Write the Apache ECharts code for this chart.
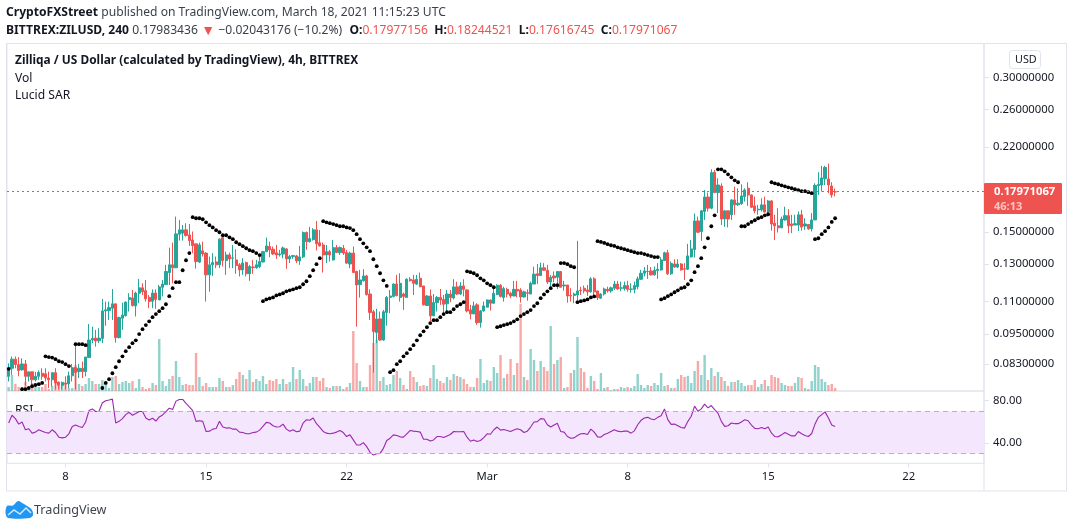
<!DOCTYPE html>
<html><head><meta charset="utf-8">
<style>html,body{margin:0;padding:0;background:#fff}#c{width:1073px;height:528px}</style>
<script src="https://cdn.jsdelivr.net/npm/echarts@6/dist/echarts.min.js"></script>
</head><body><div id="c"></div>
<script>
const tickIndex=[17,59,101,143,185,227,269];
const tickLabels=['8','15','22','Mar','8','15','22'];
const priceTicks=[0.083,0.095,0.11,0.13,0.15,0.22,0.26,0.30];
const rsiTicks=[40,80];
const lastPrice=0.17971067;
const opens=[.0786,.0815,.0849,.0829,.0809,.0831,.0786,.0802,.0774,.0786,
.0797,.0795,.0780,.0774,.0799,.0766,.0755,.0763,.0760,.0788,
.0818,.0803,.0815,.0803,.0855,.0925,.0933,.0922,.0932,.1054,
.1056,.1067,.1088,.0935,.1020,.1032,.1110,.1117,.1078,.1141,
.1169,.1154,.1120,.1101,.1142,.1107,.1172,.1186,.1252,.1296,
.1279,.1487,.1494,.1516,.1482,.1449,.1424,.1312,.1380,.1366,
.1239,.1296,.1313,.1296,.1464,.1321,.1355,.1335,.1325,.1296,
.1267,.1309,.1245,.1284,.1279,.1286,.1313,.1375,.1407,.1390,
.1368,.1355,.1360,.1392,.1331,.1345,.1349,.1319,.1343,.1498,
.1438,.1451,.1516,.1431,.1417,.1355,.1375,.1325,.1400,.1369,
.1396,.1369,.1301,.1366,.1258,.1186,.1207,.1233,.1137,.1050,
.0957,.1017,.0925,.1047,.1120,.1125,.1189,.1120,.1137,.1120,
.1215,.1211,.1189,.1220,.1179,.1080,.1127,.1031,.1094,.1120,
.1110,.1088,.1137,.1117,.1174,.1137,.1179,.1158,.1059,.1040,
.1083,.1000,.1054,.1072,.1107,.1091,.1134,.1183,.1120,.1161,
.1141,.1127,.1161,.1158,.1122,.1144,.1137,.1189,.1245,.1235,
.1279,.1265,.1200,.1233,.1226,.1258,.1179,.1184,.1130,.1130,
.1132,.1156,.1167,.1158,.1148,.1217,.1153,.1116,.1137,.1161,
.1153,.1167,.1189,.1167,.1165,.1181,.1161,.1161,.1175,.1215,
.1248,.1258,.1261,.1239,.1263,.1267,.1321,.1368,.1245,.1301,
.1283,.1301,.1273,.1271,.1343,.1388,.1578,.1505,.1646,.1757,
.1671,.1963,.1792,.1846,.1592,.1651,.1622,.1734,.1696,.1704,
.1760,.1827,.1773,.1688,.1658,.1658,.1696,.1643,.1726,.1562,
.1544,.1530,.1585,.1616,.1557,.1549,.1549,.1622,.1542,.1553,
.1523,.1585,.1849,.1854,.1907,.1904,.1846,.17977];
const closes=[.0815,.0849,.0829,.0807,.0831,.0786,.0802,.0774,.0786,.0800,
.0786,.0780,.0774,.0799,.0763,.0755,.0765,.0759,.0788,.0817,
.0800,.0815,.0803,.0857,.0925,.0932,.0921,.0933,.1054,.1059,
.1070,.1088,.0935,.1023,.1035,.1097,.1119,.1080,.1142,.1169,
.1149,.1113,.1099,.1142,.1110,.1174,.1189,.1258,.1296,.1279,
.1489,.1516,.1516,.1478,.1445,.1413,.1315,.1417,.1361,.1239,
.1296,.1309,.1296,.1454,.1321,.1355,.1331,.1337,.1292,.1267,
.1307,.1245,.1286,.1280,.1296,.1315,.1375,.1411,.1386,.1361,
.1355,.1361,.1398,.1331,.1345,.1351,.1319,.1343,.1498,.1437,
.1458,.1516,.1424,.1411,.1355,.1375,.1355,.1400,.1369,.1400,
.1366,.1306,.1366,.1252,.1184,.1211,.1233,.1134,.1047,.0961,
.1017,.0925,.1050,.1120,.1127,.1189,.1129,.1193,.1125,.1215,
.1207,.1193,.1215,.1175,.1083,.1127,.1031,.1094,.1120,.1107,
.1086,.1137,.1119,.1174,.1137,.1179,.1161,.1054,.1040,.1078,
.1000,.1054,.1078,.1107,.1091,.1141,.1183,.1125,.1165,.1137,
.1127,.1161,.1153,.1122,.1148,.1141,.1193,.1243,.1235,.1279,
.1265,.1200,.1226,.1222,.1258,.1172,.1184,.1127,.1127,.1137,
.1153,.1153,.1153,.1148,.1217,.1148,.1119,.1137,.1163,.1153,
.1169,.1189,.1163,.1169,.1181,.1161,.1163,.1181,.1217,.1248,
.1261,.1259,.1239,.1265,.1271,.1325,.1368,.1245,.1304,.1283,
.1301,.1267,.1271,.1349,.1392,.1578,.1500,.1651,.1757,.1671,
.1960,.1792,.1854,.1592,.1651,.1592,.1734,.1696,.1709,.1765,
.1813,.1773,.1678,.1651,.1663,.1696,.1643,.1726,.1557,.1544,
.1530,.1592,.1616,.1544,.1544,.1559,.1622,.1535,.1557,.1523,
.1585,.1851,.1860,.1913,.2007,.1854,.1773,.17971];
const highs=[.0833,.0859,.0859,.0857,.0852,.0846,.0802,.0802,.0802,.0807,
.0815,.0815,.0803,.0799,.0815,.0768,.0768,.0786,.0803,.0831,
.0909,.0831,.0840,.0857,.0994,.0982,.0968,.0975,.1112,.1099,
.1099,.1163,.1088,.1028,.1094,.1099,.1141,.1158,.1149,.1217,
.1193,.1211,.1132,.1161,.1161,.1184,.1211,.1296,.1400,.1432,
.1609,.1585,.1549,.1562,.1557,.1505,.1424,.1432,.1438,.1372,
.1345,.1366,.1345,.1460,.1464,.1375,.1369,.1417,.1390,.1306,
.1335,.1315,.1296,.1325,.1325,.1355,.1380,.1464,.1438,.1407,
.1417,.1386,.1407,.1396,.1355,.1355,.1355,.1411,.1505,.1505,
.1537,.1528,.1578,.1516,.1432,.1417,.1386,.1449,.1417,.1407,
.1417,.1386,.1375,.1407,.1263,.1267,.1271,.1239,.1161,.1059,
.1064,.1051,.1059,.1127,.1158,.1193,.1239,.1248,.1144,.1220,
.1226,.1239,.1239,.1252,.1179,.1132,.1161,.1137,.1127,.1163,
.1132,.1158,.1158,.1215,.1202,.1199,.1215,.1161,.1083,.1099,
.1091,.1059,.1099,.1110,.1110,.1167,.1188,.1188,.1175,.1170,
.1149,.1206,.1206,.1167,.1154,.1161,.1202,.1286,.1301,.1309,
.1306,.1296,.1239,.1258,.1258,.1258,.1206,.1184,.1167,.1144,
.1443,.1175,.1181,.1184,.1226,.1226,.1153,.1141,.1170,.1175,
.1175,.1206,.1206,.1202,.1202,.1206,.1193,.1202,.1230,.1267,
.1283,.1296,.1283,.1286,.1306,.1341,.1375,.1386,.1315,.1329,
.1329,.1306,.1306,.1424,.1449,.1631,.1609,.1658,.1813,.1792,
.1989,.1983,.1911,.1868,.1658,.1651,.1739,.1841,.1827,.1860,
.1827,.1877,.1778,.1760,.1696,.1747,.1760,.1734,.1734,.1622,
.1671,.1609,.1682,.1663,.1622,.1622,.1646,.1658,.1597,.1557,
.1634,.1868,.1963,.2020,.2020,.2040,.1877,.18245];
const lows=[.0768,.0791,.0815,.0786,.0807,.0753,.0768,.0746,.0768,.0774,
.0774,.0768,.0746,.0751,.0741,.0741,.0741,.0741,.0746,.0768,
.0741,.0780,.0780,.0786,.0855,.0912,.0898,.0912,.0912,.0986,
.1012,.1012,.0914,.0932,.0968,.1028,.1051,.1075,.1028,.1091,
.1132,.1099,.1067,.1067,.1064,.1107,.1125,.1186,.1184,.1193,
.1277,.1445,.1445,.1471,.1411,.1366,.1274,.1306,.1345,.1099,
.1149,.1233,.1277,.1277,.1286,.1239,.1277,.1277,.1245,.1230,
.1239,.1230,.1206,.1245,.1273,.1277,.1309,.1372,.1341,.1355,
.1331,.1345,.1335,.1273,.1306,.1331,.1306,.1296,.1335,.1386,
.1432,.1445,.1382,.1407,.1252,.1306,.1315,.1321,.1366,.1355,
.1355,.1301,.1277,.1252,.0982,.1119,.1202,.1129,.1012,.0799,
.0912,.0922,.0922,.0986,.1043,.1120,.1125,.1099,.1059,.1119,
.1202,.1132,.1184,.1172,.1080,.1078,.1008,.1031,.1051,.1083,
.1040,.1043,.1096,.1110,.1132,.1132,.1125,.1047,.1015,.1039,
.0990,.0978,.1051,.1072,.1056,.1088,.1132,.1120,.1099,.1120,
.1116,.1127,.1120,.1094,.1120,.1103,.1137,.1189,.1189,.1235,
.1261,.1189,.1175,.1199,.1163,.1172,.1154,.1094,.1099,.1091,
.1107,.1132,.1141,.1127,.1144,.1132,.1107,.1112,.1129,.1144,
.1144,.1158,.1158,.1151,.1154,.1149,.1144,.1141,.1161,.1211,
.1230,.1217,.1235,.1235,.1217,.1263,.1319,.1239,.1239,.1280,
.1277,.1263,.1211,.1267,.1339,.1339,.1494,.1443,.1585,.1646,
.1663,.1787,.1634,.1549,.1537,.1533,.1585,.1622,.1688,.1696,
.1721,.1688,.1671,.1634,.1622,.1646,.1638,.1609,.1511,.1449,
.1498,.1528,.1580,.1494,.1494,.1549,.1509,.1511,.1516,.1516,
.1505,.1585,.1773,.1800,.1854,.1787,.1752,.17617];
const volumes=[4,16,7,4,4,9,2,8,4,4,
4,7,2,5,9,5,6,7,3,3,
26,7,5,7,13,10,7,7,11,8,
3,14,15,7,9,10,8,10,3,12,
4,2,3,8,6,52,10,5,12,15,
30,14,6,7,6,6,38,14,5,8,
4,4,4,13,10,4,4,6,12,19,
16,12,21,9,12,10,15,7,11,10,
12,7,12,7,9,24,12,21,12,5,
8,14,14,10,13,4,3,5,5,5,
2,4,8,60,28,10,4,4,26,48,
51,10,14,6,7,16,20,13,6,2,
20,14,9,5,6,5,13,26,12,10,
8,14,11,17,15,14,12,7,4,4,
13,32,8,11,10,24,18,36,13,17,
32,16,28,87,14,11,42,31,20,30,
24,20,65,27,31,34,3,4,18,21,
54,23,19,3,15,10,2,18,3,4,
1,2,2,4,3,4,3,5,17,6,
3,6,5,8,6,18,5,6,3,3,
12,16,14,15,8,20,30,16,36,11,
23,15,19,14,10,5,9,9,11,8,
5,6,6,11,4,7,11,5,16,14,
13,8,6,5,5,8,14,13,3,2,
10,26,24,12,9,6,7,3];
const sar=[.0813,null,null,null,.0742,.0742,.0746,.0752,.0756,.0759,
.0763,.0860,.0857,.0855,.0849,.0841,.0838,.0830,.0823,null,
.0908,.0908,.0908,.0904,null,null,null,null,.0746,.0763,
.0776,.0797,.0819,.0841,.0860,.0880,.0896,.0912,.0924,.0950,
.0971,.0989,.1006,.1025,.1039,.1053,.1067,.1086,.1126,.1167,
.1199,.1199,.1265,.1323,.1366,.1605,.1597,.1597,.1590,.1568,
.1548,.1533,.1514,.1500,.1480,.1480,.1466,.1454,.1434,.1422,
.1409,.1396,.1384,.1378,.1366,.1354,.1101,.1110,.1115,.1120,
.1130,.1135,.1141,.1151,.1156,.1161,.1167,.1172,.1188,.1204,
.1232,.1265,.1300,.1335,.1576,.1568,.1562,.1556,.1548,.1541,
.1541,.1533,.1528,.1514,.1487,.1454,.1427,.1402,.1378,.1329,
.1288,.1248,.1209,.1179,.0801,.0808,.0830,.0841,.0860,.0872,
.0888,.0904,.0924,.0945,.0962,.0980,.0998,.1011,.1011,.1025,
.1039,.1048,.1048,.1062,.1077,.1086,.1096,.1259,.1254,.1248,
.1237,.1220,.1209,.1193,.1183,.1172,.0980,.0984,.0989,.0993,
.0998,.1006,.1015,.1030,.1039,.1048,.1058,.1077,.1091,.1116,
.1135,.1151,.1167,.1183,.1183,.1306,.1306,.1300,.1288,.1282,
.1096,.1101,.1105,.1110,.1120,.1125,.1441,.1436,.1430,.1422,
.1415,.1411,.1402,.1396,.1390,.1384,.1378,.1372,.1366,.1366,
.1360,.1354,.1348,.1342,.1342,.1110,.1116,.1126,.1135,.1146,
.1156,.1167,.1172,.1188,.1209,.1254,.1288,.1335,.1402,.1460,
.1541,.1618,.1989,.1989,.1971,.1945,.1919,.1893,.1877,.1541,
.1541,.1556,.1571,.1583,.1597,.1605,.1618,.1626,.1877,.1868,
.1860,.1851,.1843,.1835,.1827,.1819,.1811,.1803,.1803,.1795,
.1787,.1454,.1460,.1487,.1507,.1533,.1571,.1597];
const rsi=[58.8,66.2,63,57.8,59.8,52.4,53.4,49.2,50.2,52.4,
51.1,49.8,49.2,52.4,49.8,45.4,44.7,45.4,48.6,55.6,
56.9,55.6,54.6,59.8,70.6,72.2,69.7,70,78,79.9,
80.6,81.5,58.8,60.4,63,66.8,69,66.2,67.8,69.7,
69.7,63.6,61.7,63.3,60.7,64.6,66.5,69.7,72.9,71.6,
79.6,81.2,81.2,77.4,74.2,70.6,60.4,61,60.4,50.8,
51.1,53,53.7,60.4,55,54,54.3,53,53,50.2,
49.8,48.6,48.6,49.8,50.2,52.1,55.6,59.4,58.8,56.2,
55,55.3,57.8,53,51.1,52.4,50.5,51.1,58.8,62,
61.4,63.6,58.2,54.6,50.8,49.2,48.6,49.2,50.2,51.8,
49.8,46,47.6,42.8,38,38,40.2,36.4,31,28.4,
29.7,30,34.8,42.2,44.4,47.6,47,45.7,45.4,48.6,
51.8,51.1,50.8,50.2,
43.4,43.4,41.8,42.8,46,46,45,46.6,47.9,50.8,
50.5,50.5,50.8,45.4,41.5,42.8,41.2,42.2,45,48.6,
48.2,52.4,55,52.1,52.7,51.8,50.8,52.1,53.4,52.4,
49.8,51.1,55,59.8,60.1,63,62.6,57.2,55,56.9,
58.5,50.8,50.2,46,44.4,44.7,47,48.6,48.9,47.9,
53,50.2,45.7,45.4,47.9,49.2,50.8,52.4,51.1,50.5,
51.1,51.1,49.2,51.4,57.2,61.4,63.6,64.2,62.6,62,
64.2,65.8,72.2,62,57.5,57.8,56.2,54.6,54,60.4,
65.2,74.8,70,72.2,76.7,73.2,75.4,71.6,68.1,60.4,
55.6,56.2,58.8,58.2,58.2,59.8,62,61,56.9,53.7,
53.4,54.6,53.4,55,49.2,46,45.7,47.6,49.8,48.2,
46.6,46.6,50.8,48.6,47,46,48.9,57.8,64.2,66.8,
69.4,63.6,56.9,55.6];

const N=opens.length;
[closes,highs,lows,volumes,sar,rsi].forEach((a,k)=>{if(a.length!==N)throw new Error('length '+k+' '+a.length+' vs '+N);});
const totalSlots=292;
const categories=Array.from({length:totalSlots},(_,i)=>{const t=tickIndex.indexOf(i);return t>=0?tickLabels[t]:'b'+i;});
const UP='#26a69a',DN='#ef5350',FONT='"Noto Sans",sans-serif',TXT='#131722',FR='#e0e3eb';
const isTick=i=>tickIndex.indexOf(i)>=0;
const F1='12.1px '+FONT,F1B='bold 12.1px '+FONT;

const chart=echarts.init(document.getElementById('c'),null,{renderer:'canvas'});
chart.setOption({
 animation:false,
 grid:[
  {left:7,top:43.5,width:977,height:347.5,show:true,borderColor:FR,borderWidth:1,backgroundColor:'transparent'},
  {left:7,top:391,width:977,height:72.3,show:true,borderColor:FR,borderWidth:1,backgroundColor:'transparent'}],
 xAxis:[
  {type:'category',gridIndex:0,data:categories,boundaryGap:true,axisLine:{show:false},axisTick:{show:false},axisLabel:{show:false},splitLine:{show:false}},
  {type:'category',gridIndex:1,data:categories,boundaryGap:true,axisLine:{show:false},
   axisTick:{show:true,alignWithLabel:true,interval:isTick,length:4,lineStyle:{color:FR}},
   axisLabel:{show:true,interval:isTick,color:TXT,fontFamily:FONT,fontSize:11.3,margin:8},splitLine:{show:false}}],
 yAxis:[
  {type:'log',gridIndex:0,position:'right',min:0.0736,max:0.3497,logBase:10,axisLine:{show:false},splitLine:{show:false},minorTick:{show:false},
   axisTick:{show:true,length:5,lineStyle:{color:FR},customValues:priceTicks},
   axisLabel:{show:true,color:TXT,fontFamily:FONT,fontSize:11.3,margin:9,padding:[5,0,0,0],customValues:priceTicks,formatter:v=>v.toFixed(8)}},
  {type:'value',gridIndex:0,position:'left',min:0,max:347.5,show:false,splitLine:{show:false}},
  {type:'value',gridIndex:1,position:'right',min:20.6,max:89.2,axisLine:{show:false},splitLine:{show:false},
   axisTick:{show:true,length:5,lineStyle:{color:FR},customValues:rsiTicks},
   axisLabel:{show:true,color:TXT,fontFamily:FONT,fontSize:11.3,margin:9,padding:[5,0,0,0],customValues:rsiTicks,formatter:v=>v.toFixed(2)}}],
 series:[
  {name:'Vol',type:'bar',xAxisIndex:0,yAxisIndex:1,barWidth:2.4,z:1,silent:true,
   data:volumes.map((v,i)=>({value:v,itemStyle:{color:closes[i]>=opens[i]?'rgba(38,166,154,0.5)':'rgba(239,83,80,0.5)'}}))},
  {name:'Price',type:'candlestick',xAxisIndex:0,yAxisIndex:0,barWidth:2.7,z:3,silent:true,
   itemStyle:{color:UP,color0:DN,borderColor:UP,borderColor0:DN,borderWidth:1},
   data:opens.map((o,i)=>[o,closes[i],lows[i],highs[i]]),
   markLine:{silent:true,symbol:'none',animation:false,label:{show:false},
     data:[{yAxis:lastPrice,lineStyle:{color:'#f0504d',type:[2,3],width:1.2,opacity:1}}]}},
  {name:'Lucid SAR',type:'scatter',xAxisIndex:0,yAxisIndex:0,symbol:'circle',symbolSize:3.8,z:4,silent:true,
   itemStyle:{color:'#000',opacity:1},data:sar.map((v,i)=>v===null?[i,'-']:[i,v])},
  {name:'RSI',type:'line',xAxisIndex:1,yAxisIndex:2,showSymbol:false,z:4,silent:true,connectNulls:false,
   lineStyle:{color:'#9c27b0',width:1.1},data:rsi,
   markArea:{silent:true,itemStyle:{color:'#f4e6fd',opacity:1},data:[[{yAxis:70},{yAxis:30}]]},
   markLine:{silent:true,symbol:'none',label:{show:false},lineStyle:{color:'#b9aec4',type:[5,4],width:1,opacity:1},data:[{yAxis:70},{yAxis:30}]}}
 ],
 graphic:[
  {type:'rect',silent:true,z:0,shape:{x:6.5,y:43.5,width:1060,height:447.5},style:{fill:'none',stroke:FR,lineWidth:1}},
  {type:'line',silent:true,z:0,shape:{x1:984,y1:43.5,x2:984,y2:491},style:{stroke:FR,lineWidth:1}},
  {type:'text',silent:true,x:6,y:7,style:{rich:{
    b:{font:F1B,fill:TXT},n:{font:F1,fill:'#3a3f4b'}},
    text:'{b|CryptoFXStreet} {n|published on TradingView.com, March 18, 2021 11:15:23 UTC}'}},
  {type:'text',silent:true,x:6,y:24,style:{rich:{
    b:{font:F1B,fill:TXT},n:{font:F1,fill:'#3a3f4b'},r:{font:F1,fill:DN},t:{font:'14px '+FONT,fill:DN},
    o:{font:F1B,fill:TXT,padding:[0,0,0,4]},h:{font:F1B,fill:TXT,padding:[0,0,0,3]}},
    text:'{b|BITTREX:ZILUSD, 240} {n|0.17983436} {t|▼} {n|−0.02043176 (−10.2%)} {o|O:}{r|0.17977156} {h|H:}{r|0.18244521} {h|L:}{r|0.17616745} {h|C:}{r|0.17971067}'}},
  {type:'text',silent:true,x:15,y:55,style:{text:'Zilliqa / US Dollar (calculated by TradingView), 4h, BITTREX',font:'bold 11.9px '+FONT,fill:TXT}},
  {type:'text',silent:true,x:15,y:73,style:{text:'Vol',font:F1,fill:TXT}},
  {type:'text',silent:true,x:15,y:90,style:{text:'Lucid SAR',font:F1,fill:TXT}},
  {type:'text',silent:true,x:15,y:405,style:{text:'RSI',font:F1,fill:TXT}},
  {type:'rect',silent:true,z:5,shape:{x:1009.5,y:50.5,width:31,height:18,r:3},style:{fill:'#fff',stroke:FR,lineWidth:1}},
  {type:'text',silent:true,z:6,x:1015,y:54,style:{text:'USD',font:'10.8px '+FONT,fill:TXT}},
  {type:'rect',silent:true,z:5,shape:{x:984,y:183,width:78,height:31,r:1},style:{fill:DN}},
  {type:'text',silent:true,z:6,x:994,y:186,style:{text:'0.17971067',font:'bold 11.3px '+FONT,fill:'#fff'}},
  {type:'text',silent:true,z:6,x:994,y:201,style:{text:'46:13',font:'bold 11px '+FONT,fill:'#fbc4c3'}},
  {type:'polygon',silent:true,z:5,shape:{smooth:0.3,points:[[5.5,513],[7,506],[13,505.5],[18,501],[24,504],[28,506.5],[32,510],[33,515],[30,518],[8,518]]},style:{fill:'#2196f3'}},
  {type:'polyline',silent:true,z:6,shape:{points:[[8,515],[14,510],[20,514],[26,508],[31,513]]},style:{stroke:'#cfe9fd',fill:'none',lineWidth:1.5}},
  {type:'text',silent:true,x:34,y:504,style:{text:'TradingView',font:'12.6px '+FONT,fill:'#3f434d'}}
 ]
});
</script></body></html>
